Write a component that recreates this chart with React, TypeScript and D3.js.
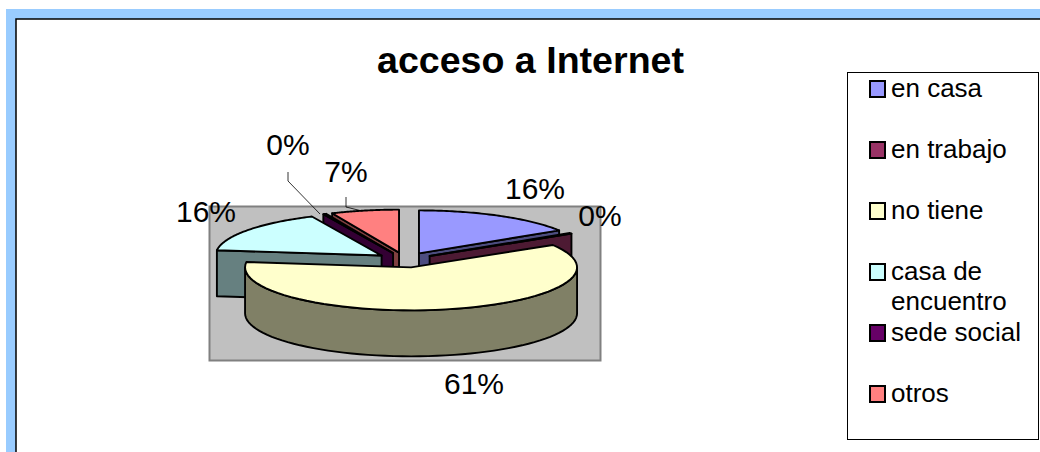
import React from "react";
import * as d3 from "d3";

const title = "acceso a Internet";
const categories = ["en casa", "en trabajo", "no tiene", "casa de encuentro", "sede social", "otros"];
const shares = [16, 0.3, 60.7, 16.1, 0.3, 6.6];
const topColors = ["#9999FF", "#993366", "#FFFFCC", "#CCFFFF", "#660066", "#FF8080"];
const legendLines = [["en casa"], ["en trabajo"], ["no tiene"], ["casa de", "encuentro"], ["sede social"], ["otros"]];
const labelAnchors: [number, number][] = [[535, 199], [600, 226], [474, 394], [206, 222], [288, 155], [346, 182]];
const drawOrder = [0, 1, 5, 4, 3, 2];

const FONT = "'Liberation Sans', Arial, sans-serif";
const cx0 = 405, cy0 = 260, rx = 166, ry = 43, depth = 46, explode = 29;

const pie = d3.pie<number>().sort(null).value((d) => d);
const arcs = pie(shares);
const line = d3.line();
const total = d3.sum(shares);

type P = [number, number];

function slice3d(i: number) {
  const a = arcs[i];
  const mid = (a.startAngle + a.endAngle) / 2;
  const cx = cx0 + explode * Math.sin(mid);
  const cy = cy0 - explode * (ry / rx) * Math.cos(mid);
  const pt = (t: number, dz = 0): P => [cx + rx * Math.sin(t), cy - ry * Math.cos(t) + dz];
  const sweep = (from: number, to: number, dz = 0): P[] =>
    d3.range(0, 61).map((k) => pt(from + ((to - from) * k) / 60, dz));
  const c: P = [cx, cy];
  const cLow: P = [cx, cy + depth];
  const top = line([c, ...sweep(a.startAngle, a.endAngle)])! + "Z";
  const face = (t: number) => line([c, pt(t), pt(t, depth), cLow])! + "Z";
  const faces: string[] = [];
  // a cut face shows only when it looks towards the viewer
  if (Math.sin(a.startAngle) < -1e-6) faces.push(face(a.startAngle));
  if (Math.sin(a.endAngle) > 1e-6) faces.push(face(a.endAngle));
  const from = Math.max(a.startAngle, Math.PI / 2);
  const to = Math.min(a.endAngle, (3 * Math.PI) / 2);
  const wall =
    to > from ? line([...sweep(from, to), ...sweep(to, from, depth)])! + "Z" : null;
  return { top, faces, wall };
}

const darker = (col: string) => {
  const c = d3.rgb(col);
  return d3.rgb(c.r * 0.5, c.g * 0.5, c.b * 0.5).formatHex();
};

export default function App() {
  return (
    <svg
      width={1040}
      height={452}
      style={{ position: "fixed", left: 0, top: 0, background: "#fff", fontFamily: FONT }}
    >
      <rect x={6} y={9} width={1034} height={443} fill="#99CCFF" />
      <rect x={16} y={19} width={1030} height={440} fill="#fff" stroke="#000" strokeWidth={1.5} />
      <text x={530.5} y={73} textAnchor="middle" fontSize={37.6} fontWeight="bold" fill="#000">
        {title}
      </text>

      <rect x={209.5} y={206.5} width={391} height={154} fill="#C0C0C0" stroke="#808080" strokeWidth={2} />

      {drawOrder.map((i) => {
        const s = slice3d(i);
        const side = darker(topColors[i]);
        return (
          <g key={categories[i]} stroke="#000" strokeWidth={1.9} strokeLinejoin="round">
            {s.faces.map((d, k) => (
              <path key={k} d={d} fill={side} />
            ))}
            {s.wall && <path d={s.wall} fill={side} />}
            <path d={s.top} fill={topColors[i]} />
          </g>
        );
      })}

      <path d={line([[288, 172], [288, 181], [320, 214]])!} fill="none" stroke="#000" strokeWidth={0.8} />
      <path d={line([[346, 197], [346, 207], [362, 211]])!} fill="none" stroke="#000" strokeWidth={0.8} />

      {shares.map((v, i) => (
        <text
          key={i}
          x={labelAnchors[i][0]}
          y={labelAnchors[i][1]}
          textAnchor="middle"
          fontSize={30}
          fill="#000"
        >
          {d3.format(".0%")(v / total)}
        </text>
      ))}

      <rect x={847.5} y={72.5} width={191} height={367} fill="#fff" stroke="#000" strokeWidth={1} />
      {categories.map((name, i) => {
        const yc = 89 + i * 61;
        return (
          <g key={name}>
            <rect x={870} y={yc - 8} width={15} height={16} fill={topColors[i]} stroke="#000" strokeWidth={2} />
            {legendLines[i].map((t, k) => (
              <text key={k} x={891} y={yc + 8 + k * 30} fontSize={26} fill="#000">
                {t}
              </text>
            ))}
          </g>
        );
      })}
    </svg>
  );
}
